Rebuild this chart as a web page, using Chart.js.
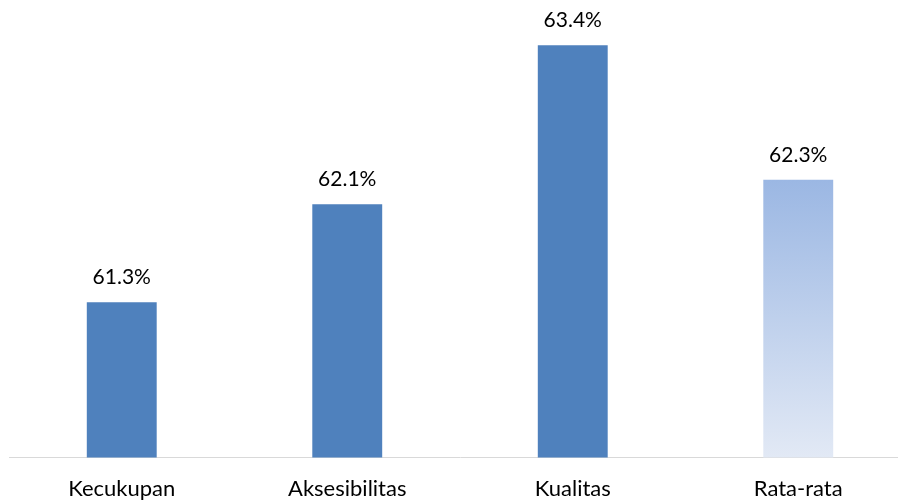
<!DOCTYPE html>
<html>
<head>
<meta charset="utf-8">
<script src="https://cdn.jsdelivr.net/npm/chart.js@4.4.0/dist/chart.umd.min.js"></script>
<style>
  html, body { margin: 0; padding: 0; background: #fff; overflow: hidden; }
  #wrap { width: 912px; height: 520px; position: relative; }
</style>
</head>
<body>
<div id="wrap"><canvas id="mycanvas"></canvas></div>
<script>
var categories = ['Kecukupan', 'Aksesibilitas', 'Kualitas', 'Rata-rata'];
var values = [61.3, 62.1, 63.4, 62.3];
var valueLabels = ['61.3%', '62.1%', '63.4%', '62.3%'];

var fontFamily = 'Lato, "Open Sans", sans-serif';

// value labels above each bar
var labelPlugin = {
	id: 'barLabels',
	afterDatasetsDraw: function(chart){
		var ctx = chart.ctx;
		var meta = chart.getDatasetMeta(0);
		ctx.save();
		ctx.fillStyle = '#000';
		ctx.font = '21px ' + fontFamily;
		ctx.textAlign = 'center';
		ctx.textBaseline = 'middle';
		meta.data.forEach(function(bar, i){
			ctx.fillText(valueLabels[i], bar.x, bar.y - 25);
		});
		ctx.restore();
	}
};

function barColor(context){
	if (context.dataIndex !== 3) return '#4f81bd';
	var chart = context.chart;
	if (!chart.chartArea) return '#9db8e4';
	var top = chart.scales.y.getPixelForValue(values[3]);
	var g = chart.ctx.createLinearGradient(0, top, 0, chart.chartArea.bottom);
	g.addColorStop(0, '#9bb7e3');
	g.addColorStop(1, '#e2e9f5');
	return g;
}

var ctx = document.getElementById('mycanvas');

var barGraph = new Chart(ctx, {
	type: 'bar',
	data: {
		labels: categories,
		datasets: [{
			data: values,
			backgroundColor: barColor,
			borderWidth: 0,
			categoryPercentage: 1,
			barPercentage: 0.31
		}]
	},
	options: {
		responsive: true,
		maintainAspectRatio: false,
		animation: false,
		layout: { padding: { left: 9, right: 1, top: 33, bottom: 0 } },
		plugins: {
			legend: { display: false },
			tooltip: { enabled: false }
		},
		scales: {
			x: {
				grid: { display: false, drawTicks: false },
				border: { display: true, color: '#d9d9d9', width: 1 },
				ticks: {
					color: '#000',
					padding: 18,
					font: { family: fontFamily, size: 22 }
				}
			},
			y: {
				display: false,
				min: 60.03,
				max: 63.5
			}
		}
	},
	plugins: [labelPlugin]
});
</script>
</body>
</html>
